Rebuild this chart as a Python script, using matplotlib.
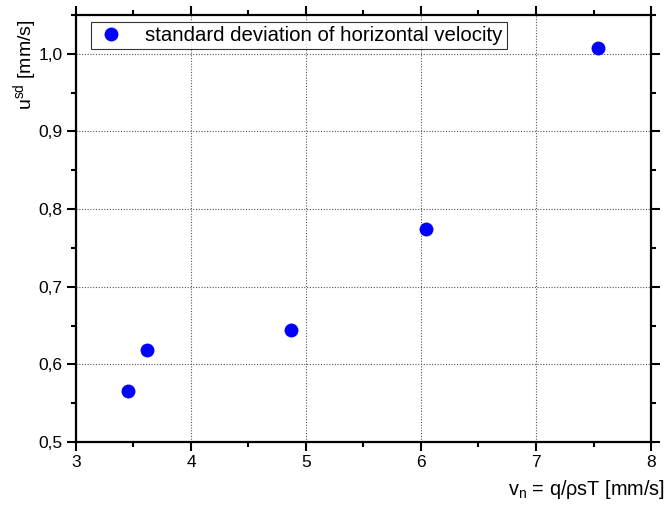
import matplotlib
matplotlib.use("Agg")
import matplotlib.pyplot as plt
from matplotlib.ticker import MultipleLocator, FuncFormatter

plt.rcParams['font.family'] = ['Liberation Sans', 'DejaVu Sans']

# Normal velocity v_n and standard deviation of horizontal velocity
vn = [3.45, 3.62, 4.87, 6.04, 7.54]
usd = [0.566, 0.618, 0.644, 0.774, 1.007]

x_ticks = [3, 4, 5, 6, 7, 8]
y_ticks = [0.5, 0.6, 0.7, 0.8, 0.9, 1.0]

fig = plt.figure(figsize=(6.67, 5.05), dpi=100)
ax = fig.add_axes([76/667, 1 - 442/505, (651-76)/667, (442-15)/505])

ax.plot(vn, usd, 'o', color='#0000ff', markersize=10, markeredgewidth=0,
        label='standard deviation of horizontal velocity', zorder=3)

ax.set_xlim(3, 8)
ax.set_ylim(0.5, 1.05)
ax.set_xticks(x_ticks)
ax.set_yticks(y_ticks)
ax.xaxis.set_minor_locator(MultipleLocator(0.5))
ax.yaxis.set_minor_locator(MultipleLocator(0.05))
ax.yaxis.set_major_formatter(FuncFormatter(lambda v, p: f"{v:.1f}".replace('.', ',')))
ax.xaxis.set_major_formatter(FuncFormatter(lambda v, p: f"{v:g}"))

ax.grid(True, which='major', color='#555555', linestyle=(0, (1, 1.5)), linewidth=0.8)

for s in ax.spines.values():
    s.set_linewidth(1.6)
ax.tick_params(which='both', direction='out', top=True, right=True,
               labeltop=False, labelright=False, width=1.5, labelsize=12.5,
               colors='black')
ax.tick_params(which='major', length=6.5, pad=3)
ax.tick_params(which='minor', length=3.5)

leg = ax.legend(loc='upper left', bbox_to_anchor=((91-76)/575, 1 - (22-15)/427),
                fontsize=14.7, frameon=True, fancybox=False, borderaxespad=0,
                handletextpad=0.85, borderpad=0.2, handlelength=1.6)
leg.get_frame().set_edgecolor('black')
leg.get_frame().set_linewidth(0.8)

fig.text(665/667, 1 - 495/505, r'v$_\mathregular{n}$ = q/ρsT [mm/s]', ha='right',
         va='baseline', fontsize=14.3)
fig.text(26/667, 1 - 20/505, r'u$^\mathregular{sd}$ [mm/s]', rotation=90,
         ha='center', va='top', fontsize=14)

fig.savefig('out.png', dpi=100)
